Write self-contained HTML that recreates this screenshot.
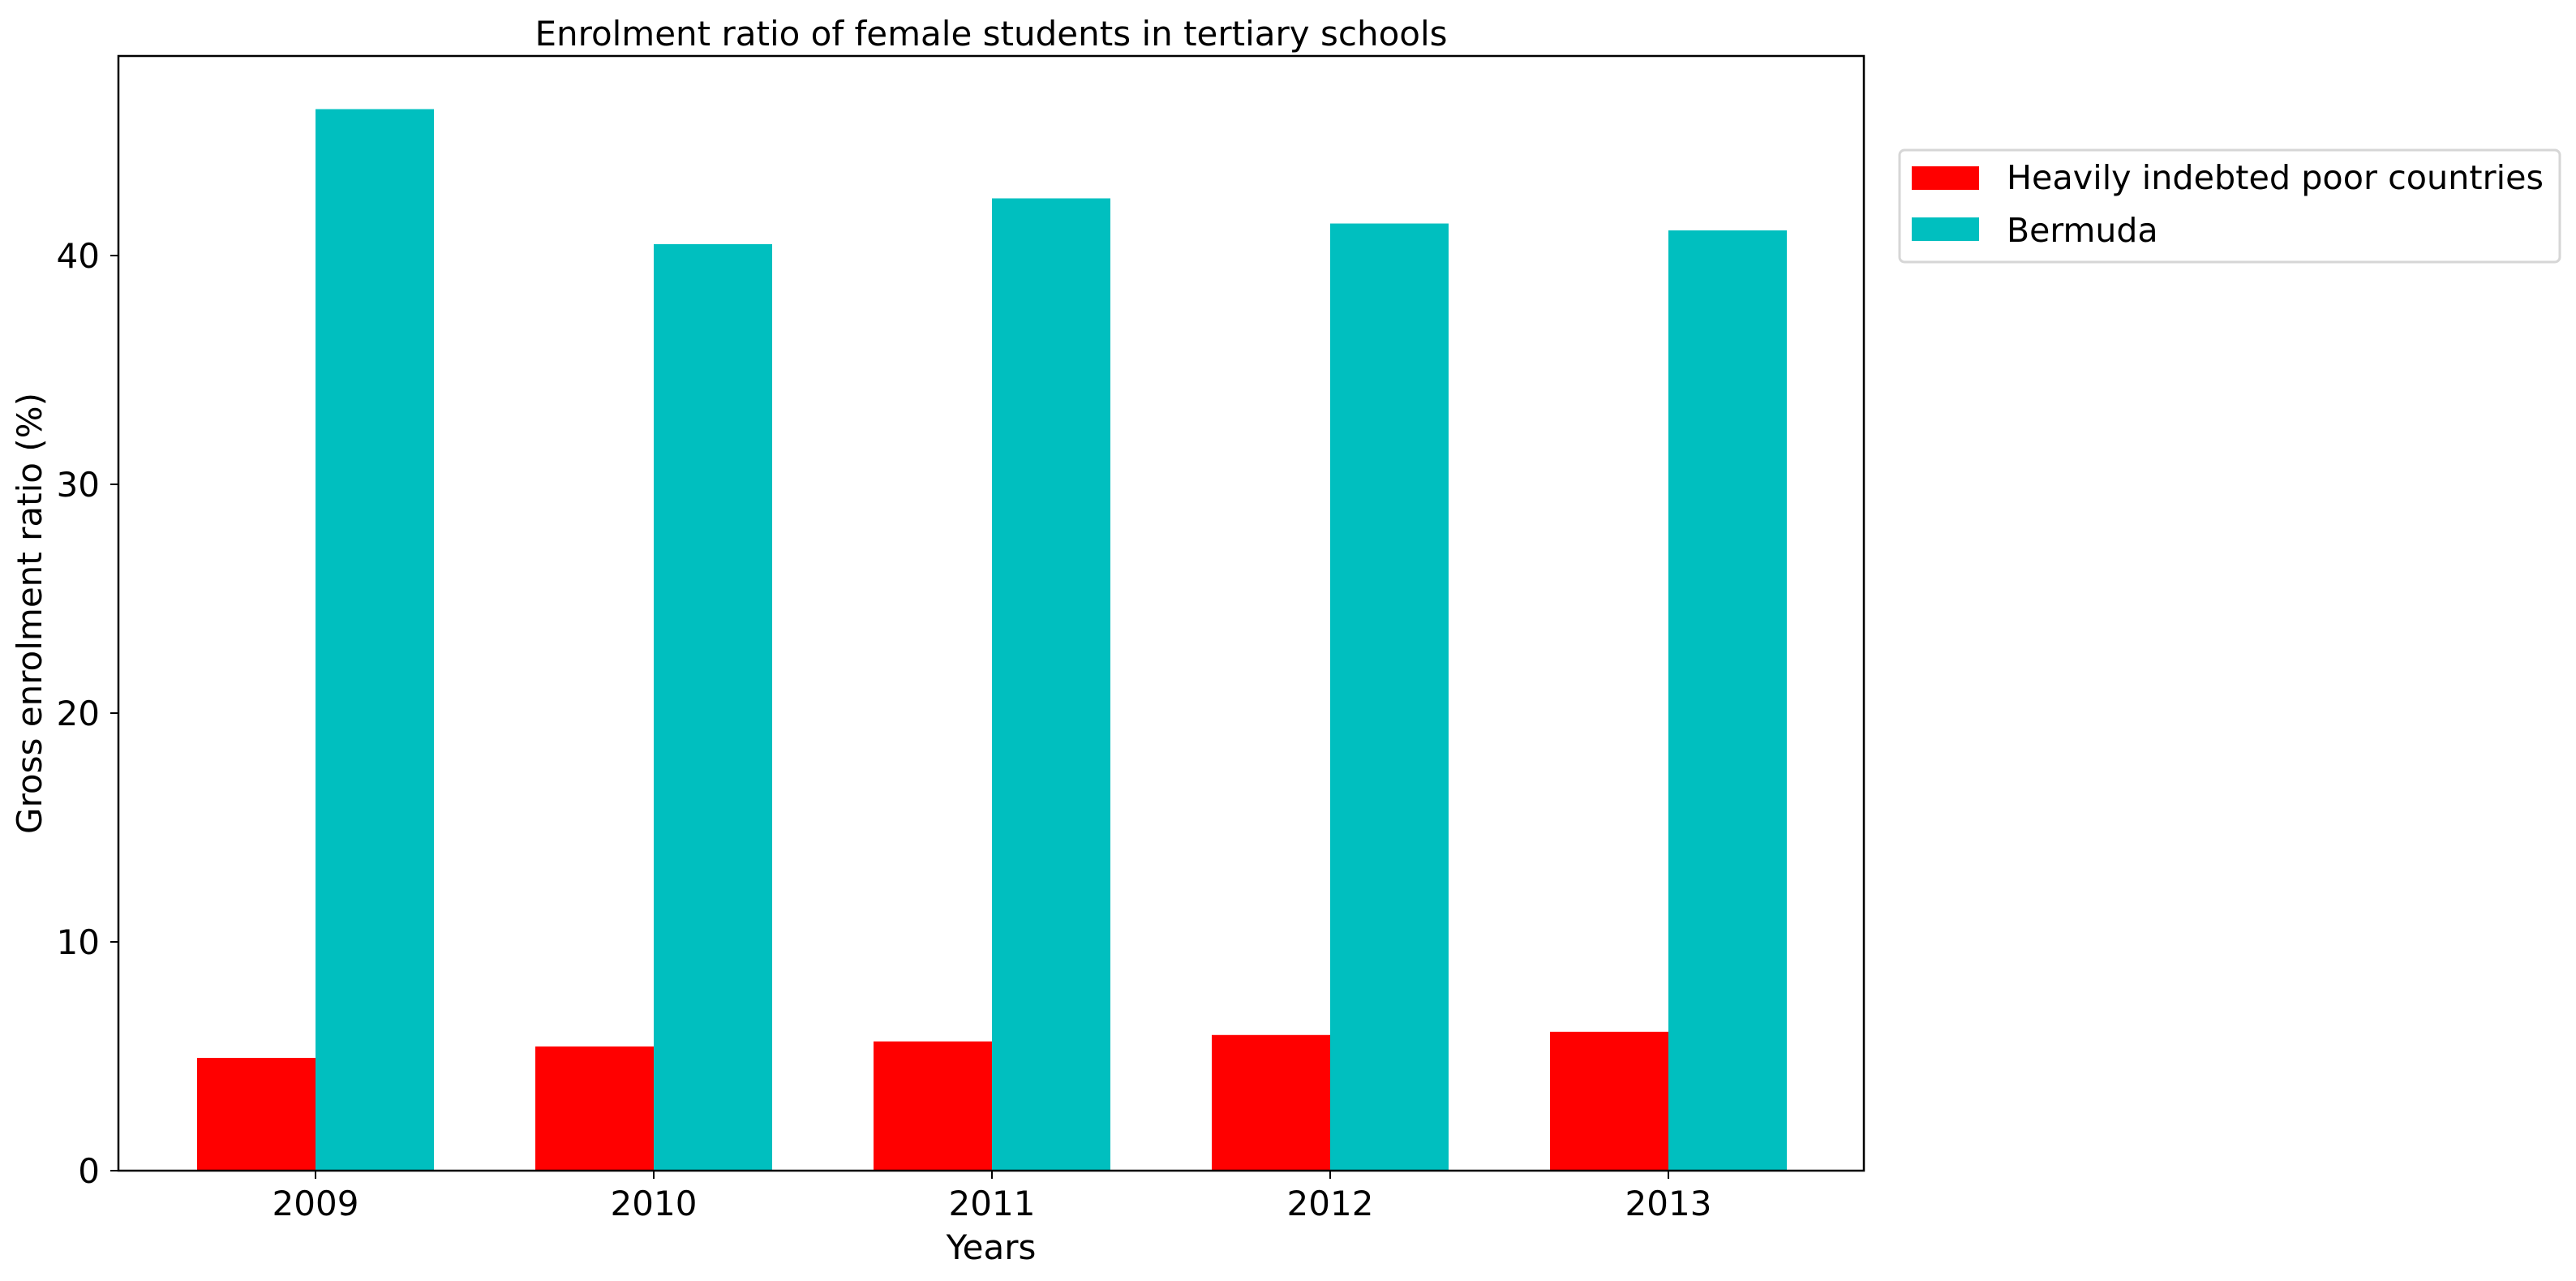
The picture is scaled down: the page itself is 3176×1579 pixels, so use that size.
<!DOCTYPE html>
<html><head><meta charset="utf-8"><style>html,body{margin:0;padding:0;background:#fff}svg{display:block}text{font-family:"DejaVu Sans","Liberation Sans",sans-serif;fill:#000}</style></head>
<body>
<svg id="chart" width="3176" height="1579" viewBox="0 0 3176 1579" xmlns="http://www.w3.org/2000/svg">
<rect width="3176" height="1579" fill="#fff"/>
<text x="1222" y="56" font-size="42" text-anchor="middle">Enrolment ratio of female students in tertiary schools</text>
<g id="bars"></g>
<g id="axes"></g>
<text x="1222" y="1552" font-size="42" text-anchor="middle">Years</text>
<text transform="translate(51,756) rotate(-90)" font-size="42" text-anchor="middle">Gross enrolment ratio (%)</text>
<g>
<rect x="2342" y="185" width="814" height="138" rx="6" fill="#fff" stroke="#d6d6d6" stroke-width="3"/>
<rect x="2357" y="205" width="83" height="29" fill="#ff0000"/>
<text x="2474" y="233" font-size="41" textLength="662" lengthAdjust="spacingAndGlyphs">Heavily indebted poor countries</text>
<rect x="2357" y="268" width="83" height="29" fill="#00bfbf"/>
<text x="2474" y="298" font-size="41">Bermuda</text>
</g>
</svg>
<script>
const categories = ["2009","2010","2011","2012","2013"];
const hipcValues = [4.93, 5.43, 5.65, 5.93, 6.07];
const bermudaValues = [46.4, 40.5, 42.5, 41.4, 41.1];
const yTicks = [0, 10, 20, 30, 40];

const NS = "http://www.w3.org/2000/svg";
const L = 146, R = 2298, T = 69, B = 1443;
const yMax = (B - T) / 28.2;
const y = v => B - v / yMax * (B - T);
const x0 = 389, step = 417, bw = 146;
const xc = i => x0 + i * step;
function mk(tag, attrs, parent) {
  const e = document.createElementNS(NS, tag);
  for (const k in attrs) e.setAttribute(k, attrs[k]);
  parent.appendChild(e);
  return e;
}
const bars = document.getElementById('bars');
const axes = document.getElementById('axes');
categories.forEach((c, i) => {
  const r = mk('rect', {x: xc(i) - bw, y: y(hipcValues[i]), width: bw, height: B - y(hipcValues[i]), fill: '#ff0000'}, bars);
  
  
  const b = mk('rect', {x: xc(i), y: y(bermudaValues[i]), width: bw, height: B - y(bermudaValues[i]), fill: '#00bfbf'}, bars);
  
  
  const t = mk('line', {x1: xc(i), x2: xc(i), y1: B, y2: B + 10, stroke: '#000', 'stroke-width': 2}, axes);
  
  
  const lb = mk('text', {x: xc(i), y: 1498, 'font-size': 42, 'text-anchor': 'middle'}, axes);
  lb.textContent = c;
  
  
});
yTicks.forEach(v => {
  const t = mk('line', {x1: L - 10, x2: L, y1: y(v), y2: y(v), stroke: '#000', 'stroke-width': 2}, axes);
  
  
  const lb = mk('text', {x: 123, y: y(v) + 15, 'font-size': 42, 'text-anchor': 'end'}, axes);
  lb.textContent = v;
  
  
});
const frame = mk('rect', {x: L, y: T, width: R - L, height: B - T, fill: 'none', stroke: '#000', 'stroke-width': 2.5}, axes);


</script>
</body></html>
